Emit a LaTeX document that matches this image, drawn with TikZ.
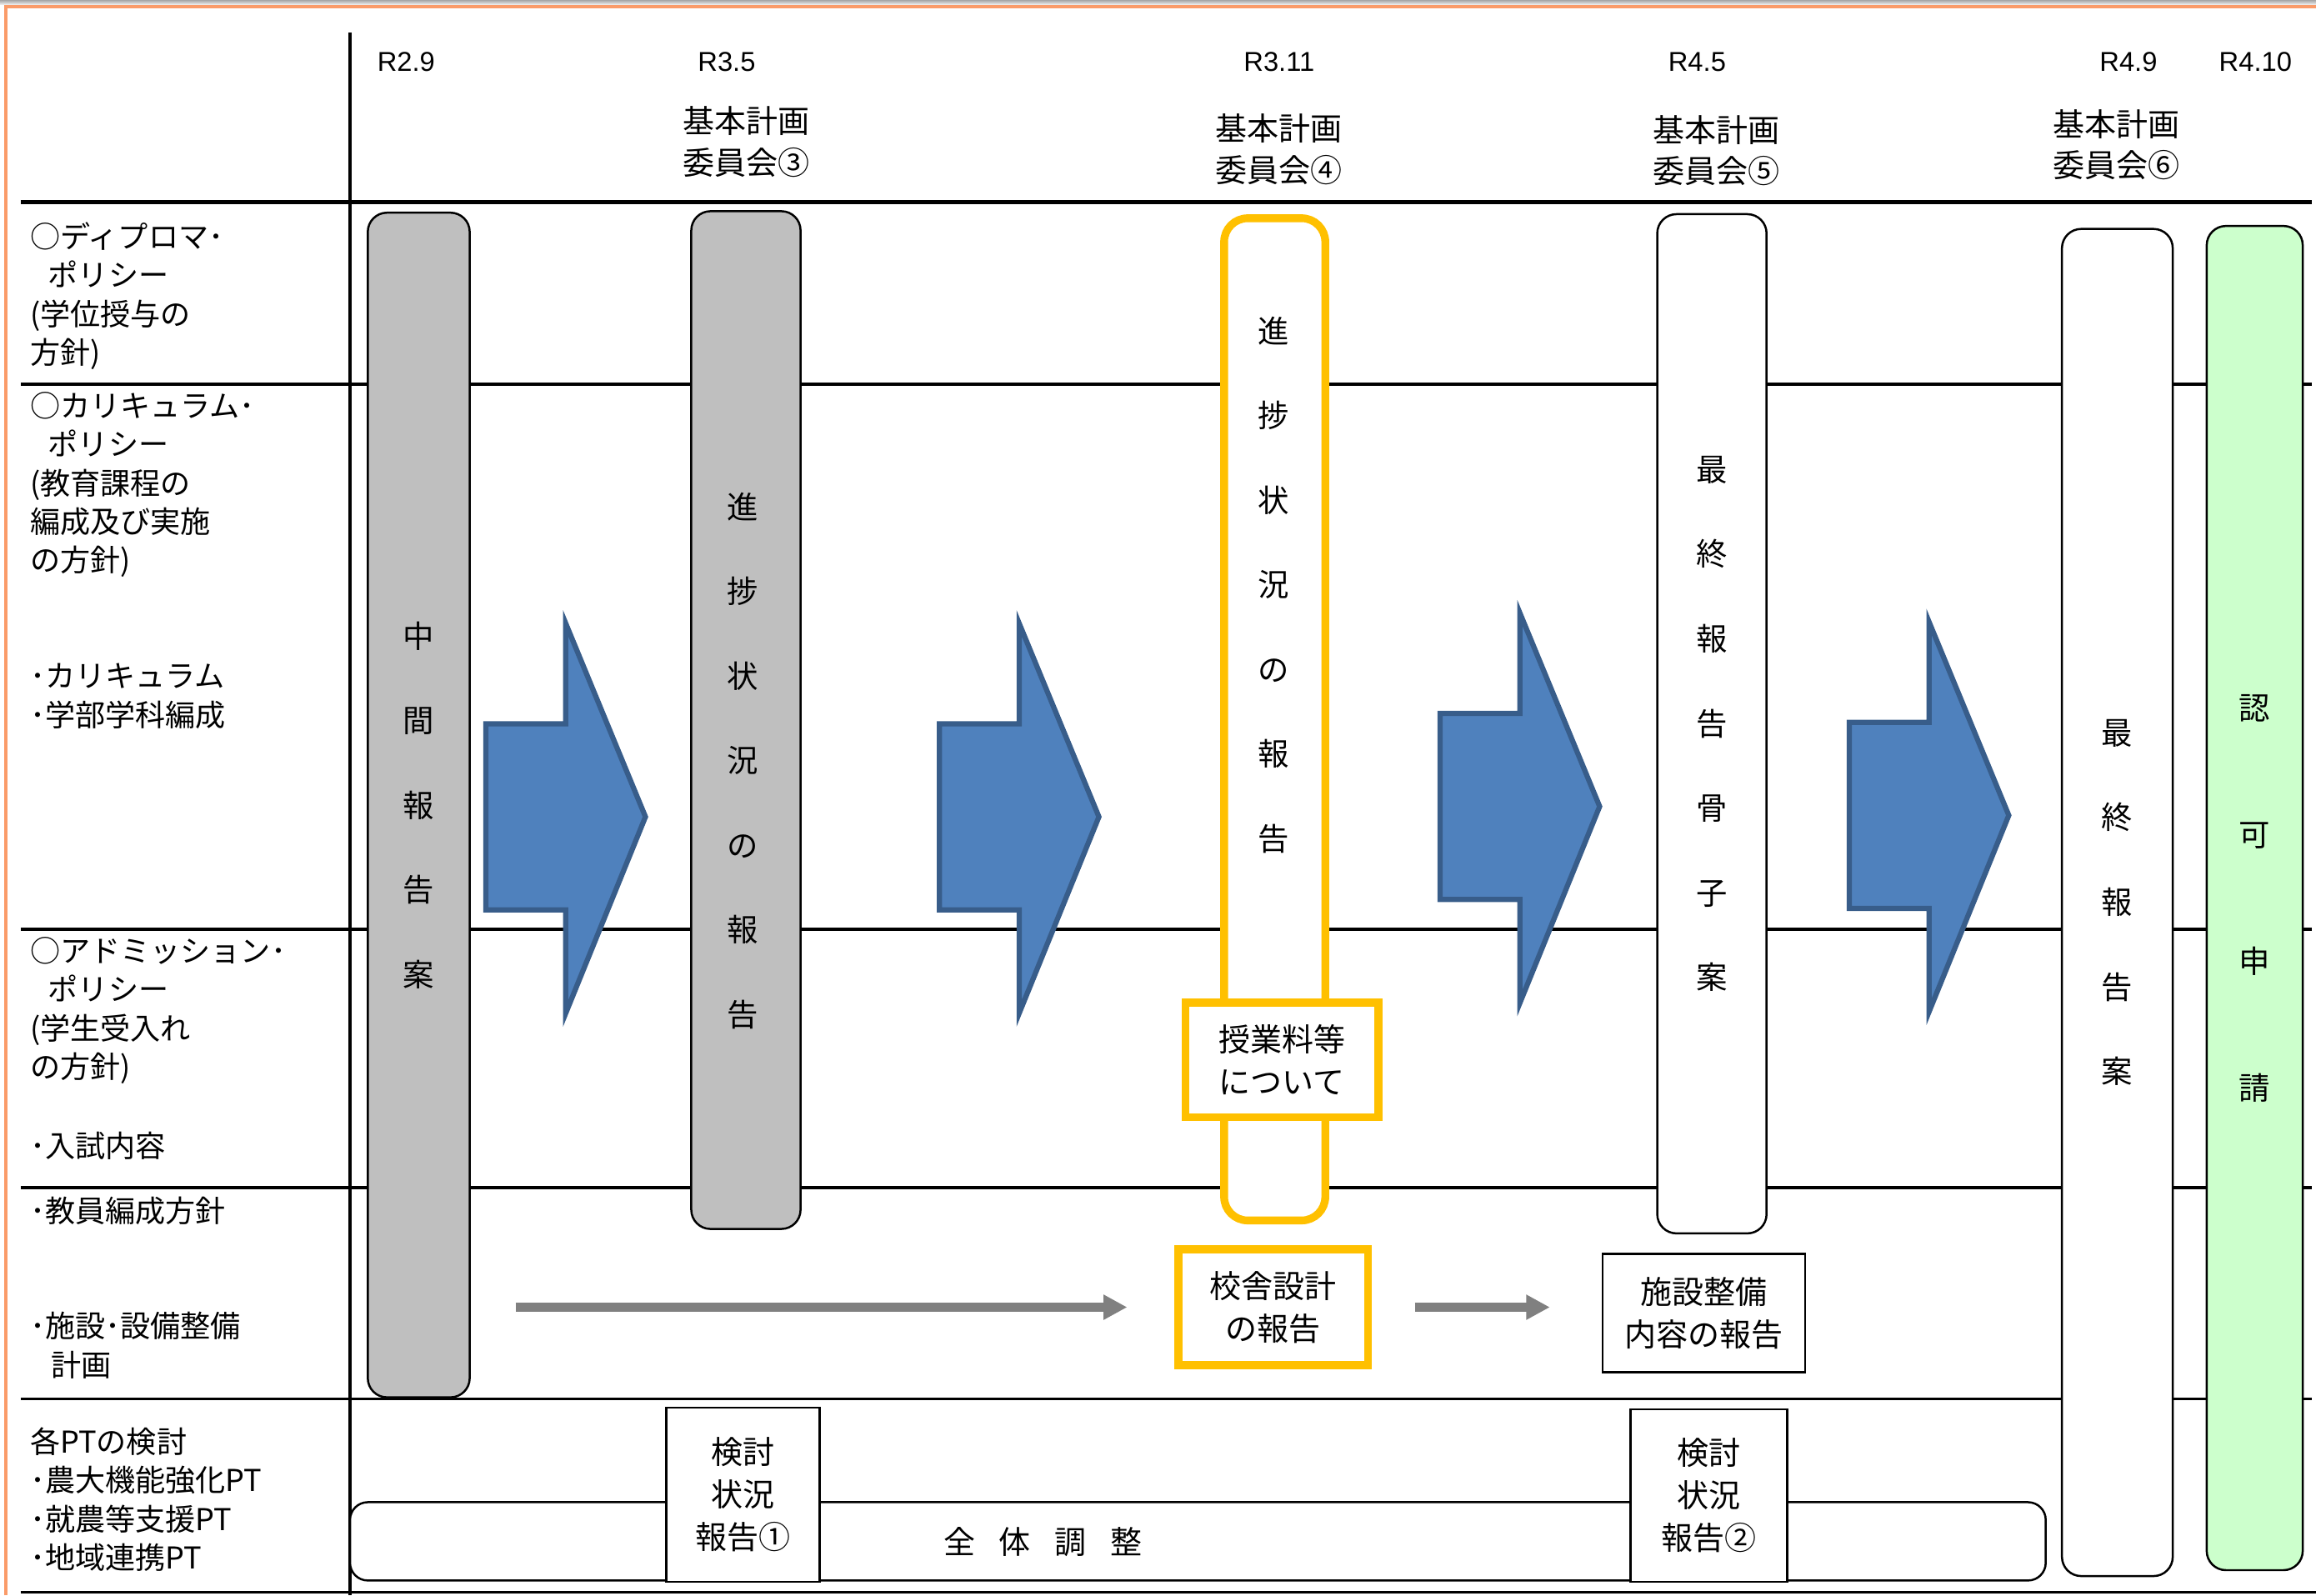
\documentclass[tikz,border=0pt]{standalone}
\usepackage{fontspec}
\setmainfont{Noto Sans CJK JP}
\newfontfamily\latinfont{Liberation Sans}
\usepackage{tikz}
\usetikzlibrary{arrows.meta, positioning, calc}
\definecolor{bargray}{RGB}{191,191,191}
\definecolor{myyellow}{RGB}{255,192,0}
\definecolor{myblue}{RGB}{79,129,189}
\definecolor{mybluedark}{RGB}{56,93,138}
\definecolor{mygreen}{RGB}{204,255,204}
\definecolor{myorange}{RGB}{250,155,105}
\definecolor{arrowgray}{RGB}{128,128,128}
\tikzset{
  stagebar/.style={rectangle, draw=black, line width=0.8pt, rounded corners=2.6mm,
    align=center, inner sep=0pt, font=\fontsize{12pt}{32.6pt}\selectfont},
  graybar/.style={stagebar, fill=bargray},
  whitebar/.style={stagebar, fill=white},
  yellowbar/.style={stagebar, fill=white, draw=myyellow, line width=3pt, rounded corners=3.2mm},
  greenbar/.style={stagebar, fill=mygreen, font=\fontsize{12pt}{48.8pt}\selectfont},
  vtext/.style={align=center, inner sep=0pt, font=\fontsize{12pt}{32.6pt}\selectfont},
  plainbox/.style={rectangle, draw=black, line width=0.8pt, fill=white, align=center,
    inner sep=0pt, font=\fontsize{12.2pt}{16.4pt}\selectfont},
  yellowbox/.style={plainbox, draw=myyellow, line width=3pt},
  headtext/.style={align=center, inner sep=0pt, font=\fontsize{12.2pt}{15.9pt}\selectfont},
  datelabel/.style={inner sep=0pt, font=\latinfont\fontsize{10.5pt}{12pt}\selectfont},
  rowlabel/.style={anchor=north west, align=left, inner sep=0pt,
    font=\fontsize{11.6pt}{14.9pt}\selectfont},
  tableline/.style={line width=1.2pt},
  bigarrow/.style={fill=myblue, draw=mybluedark, line width=2pt},
  grayarrow/.style={-{Triangle[length=3.2mm,width=3.2mm]}, line width=3.4pt, draw=arrowgray}
}
\begin{document}
\begin{tikzpicture}[x=0.2mm, y=-0.2mm]
  \useasboundingbox (0,0) rectangle (1568,1080);

  \shade[top color=gray!70, bottom color=gray!15] (0,0) rectangle (1568,3);
  \draw[myorange, line width=1.5pt] (4,1080) -- (4,4.5) -- (1568,4.5);

  \draw[tableline] (237,22) -- (237,1080);
  \draw[tableline, line width=1.6pt] (14,137) -- (1565,137);
  \foreach \y in {260,629,804,947}
    \draw[tableline] (14,\y) -- (1565,\y);
  \draw[tableline] (14,1078) -- (1568,1078);

  \node[datelabel] (d1) at (275,42) {R2.9};
  \node[datelabel] (d2) at (492,42) {R3.5};
  \node[datelabel] (d3) at (866,42) {R3.11};
  \node[datelabel] (d4) at (1149,42) {R4.5};
  \node[datelabel] (d5) at (1441,42) {R4.9};
  \node[datelabel] (d6) at (1527,42) {R4.10};

  \node[headtext] (c3) at (505,96) {基本計画\\委員会③};
  \node[headtext] (c4) at (866,101) {基本計画\\委員会④};
  \node[headtext] (c5) at (1162,102) {基本計画\\委員会⑤};
  \node[headtext] (c6) at (1433,98) {基本計画\\委員会⑥};

  \node[rowlabel] (dp) at (20,150) {○ディプロマ･\\\hspace*{0.6em}ポリシー\\(学位授与の\\方針)};
  \node[rowlabel] (cp) at (20,265) {○カリキュラム･\\\hspace*{0.6em}ポリシー\\(教育課程の\\編成及び実施\\の方針)};
  \node[rowlabel] (cur) at (20,449) {･カリキュラム\\･学部学科編成};
  \node[rowlabel] (ap) at (20,634) {○アドミッション･\\\hspace*{0.6em}ポリシー\\(学生受入れ\\の方針)};
  \node[rowlabel] (exam) at (20,766) {･入試内容};
  \node[rowlabel] (staff) at (20,810) {･教員編成方針};
  \node[rowlabel] (facil) at (20,888) {･施設･設備整備\\\hspace*{0.7em}計画};
  \node[rowlabel] (pt) at (20,966) {各PTの検討\\･農大機能強化PT\\･就農等支援PT\\･地域連携PT};

  \node[graybar, minimum width=13.8mm, minimum height=160.4mm] (midrep) at (283.5,545) {中\\間\\報\\告\\案};
  \node[graybar, minimum width=14.8mm, minimum height=137.8mm] (prog3) at (505,487.5) {};
  \node[vtext] (prog3txt) at (503,515) {進\\捗\\状\\況\\の\\報\\告};
  \node[yellowbar, minimum width=13.7mm, minimum height=135.7mm] (prog4) at (863,487) {};
  \node[vtext] (prog4txt) at (862,396) {進\\捗\\状\\況\\の\\報\\告};
  \node[whitebar, minimum width=14.8mm, minimum height=138mm] (draft5) at (1159,490) {最\\終\\報\\告\\骨\\子\\案};
  \node[whitebar, minimum width=15mm, minimum height=182.4mm] (final6) at (1433.5,611) {最\\終\\報\\告\\案};
  \node[greenbar, minimum width=13mm, minimum height=182mm] (ninka) at (1526.5,608) {認\\可\\申\\請};

  \node[yellowbox, minimum width=26.1mm, minimum height=15.5mm] (fee) at (868,717.5) {授業料等\\について};
  \node[yellowbox, minimum width=25.7mm, minimum height=15.7mm] (kousha) at (862,885) {校舎設計\\の報告};
  \node[plainbox, minimum width=27.4mm, minimum height=16mm] (shisetsu) at (1153.5,889) {施設整備\\内容の報告};

  \node[plainbox, rounded corners=2.4mm, minimum width=229.6mm, minimum height=10.6mm] (zentaibox) at (811,1043.5) {};
  \node[headtext] (zentai) at (706,1044) {全\hspace{0.75em}体\hspace{0.75em}調\hspace{0.75em}整};
  \node[plainbox, minimum width=20.8mm, minimum height=23.6mm] (pt1) at (503,1012) {検討\\状況\\報告①};
  \node[plainbox, minimum width=21.2mm, minimum height=23.4mm] (pt2) at (1157,1012.5) {検討\\状況\\報告②};

  \foreach \x/\y in {329/553, 636/553, 975/546, 1252/552}
    \draw[bigarrow] (\x,\y-63) -- (\x+54,\y-63) -- (\x+54,\y-131) -- (\x+108,\y)
      -- (\x+54,\y+133) -- (\x+54,\y+63) -- (\x,\y+63) -- cycle;

  \coordinate (facstart) at (349,885);
  \draw[grayarrow, shorten >=6.4mm] (facstart) -- (facstart -| kousha.west);
  \draw[grayarrow, shorten <=5.8mm, shorten >=7mm] (kousha.east) -- (kousha.east -| shisetsu.west);

\end{tikzpicture}
\end{document}
